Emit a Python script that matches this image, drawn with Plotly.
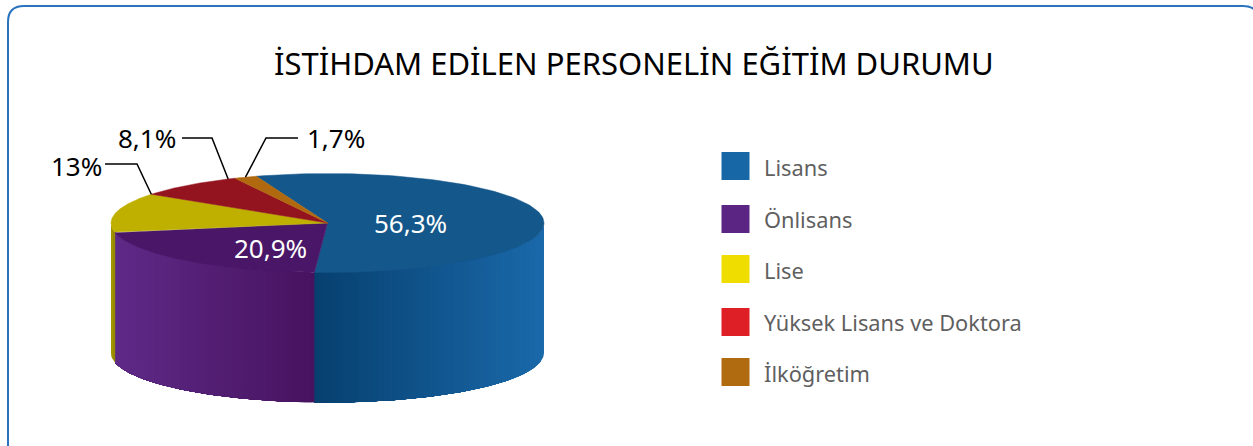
import numpy as np
import plotly.graph_objects as go

categories = ["Lisans", "Önlisans", "Lise", "Yüksek Lisans ve Doktora", "İlköğretim"]
values = [56.3, 20.9, 13.0, 8.1, 1.7]
value_labels = ["56,3%", "20,9%", "13%", "8,1%", "1,7%"]
legend_colors = ["#1766a6", "#5b2583", "#f0dd00", "#de1f26", "#b06a10"]
top_colors = ["#14578b", "#4a1768", "#bfb000", "#93131e", "#b0690e"]
wall_left = ["#07406f", "#5e2a87", "#a89a00", "#7a0f18", "#8a5208"]
wall_right = ["#1a69aa", "#47135f", "#8f8400", "#93131e", "#b0690e"]
title = "İSTİHDAM EDİLEN PERSONELİN EĞİTİM DURUMU"
legend_y = [166, 219, 269, 322, 372]
legend_text_y = [167, 219, 270, 322, 373]

CX, CY, RX, RY, DEPTH = 327.5, 223.0, 216.5, 49.5, 130.0
START = 250.8  # degrees, screen clockwise from 3 o'clock


def mix(a, b, t):
    ca = [int(a[i:i + 2], 16) for i in (1, 3, 5)]
    cb = [int(b[i:i + 2], 16) for i in (1, 3, 5)]
    return "rgb(%d,%d,%d)" % tuple(round(x + (y - x) * t) for x, y in zip(ca, cb))


def ex(a):
    return CX + RX * np.cos(np.radians(a))


def ey(a):
    return CY + RY * np.sin(np.radians(a))


fig = go.Figure()

# slice angular extents
spans = []
a = START
for v in values:
    spans.append((a, a + v * 3.6))
    a += v * 3.6


def poly(xs, ys, color, lw=0.0):
    fig.add_trace(go.Scatter(x=xs, y=ys, mode="lines", fill="toself", fillcolor=color,
                             line=dict(color=color, width=lw), hoverinfo="skip", showlegend=False))


# side wall, drawn as overlapping vertical strips so that it carries a gradient
for i, (a0, a1) in enumerate(spans):
    for off in (0, -360, 360):
        lo, hi = max(a0 + off, 0), min(a1 + off, 180)
        if hi <= lo:
            continue
        xl, xr = min(ex(lo), ex(hi)), max(ex(lo), ex(hi))
        n = max(2, int((xr - xl) / 3))
        # equal-width strips in x, painted from right to left with overlap
        xe = np.linspace(xr, xl, n + 1)
        edges = np.degrees(np.arccos(np.clip((xe - CX) / RX, -1, 1)))
        edges[0], edges[-1] = lo, hi
        for k in range(n):
            e0, e1 = edges[k], edges[-1]
            # each strip reaches to the far end of the slice; the next ones paint over it
            arc = np.linspace(e0, e1, max(6, int(e1 - e0) * 2))
            xs = np.concatenate([ex(arc), ex(arc[::-1])])
            ys = np.concatenate([ey(arc), ey(arc[::-1]) + DEPTH])
            t = ((xe[k] + xe[k + 1]) / 2 - xl) / max(xr - xl, 1e-6)
            poly(xs, ys, mix(wall_left[i], wall_right[i], t))

# top face
for i, (a0, a1) in enumerate(spans):
    arc = np.linspace(a0, a1, 120)
    poly(np.concatenate([[CX], ex(arc), [CX]]), np.concatenate([[CY], ey(arc), [CY]]), top_colors[i], 0.5)

# leader lines from outside labels to the rim
leaders = {2: ((105, 164), (137, 164)), 3: ((182, 138), (212, 138)), 4: ((298, 138), (266, 138))}
for i, (p0, p1) in leaders.items():
    rim = spans[i][1] if i != 4 else (spans[i][0] + spans[i][1]) / 2
    if i == 3:
        rim = spans[i][1] - 2
    fig.add_trace(go.Scatter(x=[p0[0], p1[0], float(ex(rim))], y=[p0[1], p1[1], float(ey(rim))], mode="lines",
                             line=dict(color="#000000", width=1.5), hoverinfo="skip", showlegend=False))

# legend keys
fig.add_trace(go.Scatter(x=[735.5] * 5, y=legend_y, mode="markers",
                         marker=dict(symbol="square", size=28, color=legend_colors, line=dict(width=0)),
                         hoverinfo="skip", showlegend=False))

annotations = [dict(x=633.5, y=63, text=title, showarrow=False, xanchor="center", yanchor="middle",
                    font=dict(size=31, color="#000000"))]
for name, y in zip(categories, legend_text_y):
    annotations.append(dict(x=761.5, y=y, text=name, showarrow=False, xanchor="left", yanchor="middle",
                            font=dict(size=21.8, color="#5f5f5f")))
label_pos = [(410.5, 222.5, "#ffffff"), (270, 247.5, "#ffffff"), (76, 166, "#000000"), (147, 138, "#000000"), (335.5, 138, "#000000")]
for text, (x, y, c) in zip(value_labels, label_pos):
    annotations.append(dict(x=x, y=y, text=text, showarrow=False, xanchor="center", yanchor="middle",
                            font=dict(size=26, color=c)))

fig.update_layout(
    width=1253, height=446, margin=dict(l=0, r=0, t=0, b=0, pad=0, autoexpand=False),
    paper_bgcolor="#ffffff", plot_bgcolor="#ffffff", showlegend=False,
    font=dict(family="Noto Sans"),
    xaxis=dict(range=[0, 1253], visible=False, fixedrange=True),
    yaxis=dict(range=[446, 0], visible=False, fixedrange=True),
    annotations=annotations,
    shapes=[dict(type="path", layer="below",
                 path="M 8,446 L 8,22 Q 8,6 24,6 L 1243,6 Q 1259,6 1259,22 L 1259,446",
                 line=dict(color="#2a74bd", width=2))],
)
fig.write_html("out.html", config={"displayModeBar": False},
               post_script="document.body.style.margin='0';document.body.style.overflow='hidden';")
